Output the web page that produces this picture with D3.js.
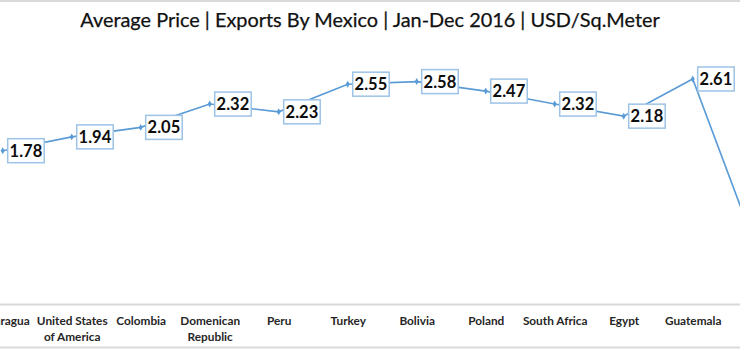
<!DOCTYPE html>
<html>
<head>
<meta charset="utf-8">
<script src="https://cdn.jsdelivr.net/npm/d3@7"></script>
<style>
  html, body { margin: 0; padding: 0; background: #fff; overflow: hidden; }
  svg { display: block; }
</style>
</head>
<body>
<svg id="chart" width="740" height="350"></svg>
<script>
const title = "Average Price | Exports By Mexico | Jan-Dec 2016 | USD/Sq.Meter";
const categories = ["Nicaragua", "United States of America", "Colombia", "Domenican Republic", "Peru", "Turkey", "Bolivia", "Poland", "South Africa", "Egypt", "Guatemala", "Next"];
const categoryLines = [["Nicaragua"], ["United States", "of America"], ["Colombia"], ["Domenican", "Republic"], ["Peru"], ["Turkey"], ["Bolivia"], ["Poland"], ["South Africa"], ["Egypt"], ["Guatemala"], []];
const values = [1.78, 1.94, 2.05, 2.32, 2.23, 2.55, 2.58, 2.47, 2.32, 2.18, 2.61, 0.48];
const yDomain = [0, 3];

const W = 740, H = 350;
const svg = d3.select("#chart");
const FONT = "Lato, 'Open Sans', sans-serif";

// frame lines
svg.append("line").attr("x1", 0).attr("x2", W).attr("y1", 1).attr("y2", 1)
  .attr("stroke", "#d9d9d9").attr("stroke-width", 2);
svg.append("line").attr("x1", 0).attr("x2", W).attr("y1", 347.5).attr("y2", 347.5)
  .attr("stroke", "#d9d9d9").attr("stroke-width", 2);

// title
const t = svg.append("text").text(title)
  .attr("x", W / 2).attr("y", 27)
  .attr("text-anchor", "middle")
  .attr("font-family", FONT).attr("font-size", 20)
  .attr("fill", "#111").attr("stroke", "#111").attr("stroke-width", 0.25);
{
  const w = t.node().getComputedTextLength();
  t.attr("font-size", 20 * 580 / w);
}

const x = d3.scalePoint().domain(categories).range([2.7, 2.7 + 69 * (categories.length - 1)]);
const y = d3.scaleLinear().domain(yDomain).range([304.5, 45.3]);

// axis
const axisG = svg.append("g").attr("transform", `translate(0,${y(0)})`)
  .call(d3.axisBottom(x).tickSize(0).tickFormat(""));
axisG.select(".domain").remove();
svg.append("line").attr("x1", 0).attr("x2", W).attr("y1", y(0)).attr("y2", y(0))
  .attr("stroke", "#d9d9d9").attr("stroke-width", 2);

axisG.selectAll(".tick").each(function(d, i) {
  const g = d3.select(this);
  g.select("text").remove();
  const lines = categoryLines[i];
  if (!lines.length) return;
  const tx = g.append("text")
    .attr("text-anchor", "middle")
    .attr("font-family", FONT).attr("font-weight", "bold")
    .attr("font-size", 11.8).attr("fill", "#262626");
  lines.forEach((ln, k) => {
    tx.append("tspan").attr("x", 0).attr("y", 20.5 + k * 15.5).text(ln);
  });
});

// line
const pts = categories.map((c, i) => ({ c, v: values[i] }));
svg.append("path").datum(pts)
  .attr("fill", "none").attr("stroke", "#5b9bd5").attr("stroke-width", 1.6)
  .attr("d", d3.line().x(d => x(d.c)).y(d => y(d.v)));

// markers
svg.selectAll(".mk").data(pts).join("path").attr("class", "mk")
  .attr("transform", d => `translate(${x(d.c)},${y(d.v)})`)
  .attr("d", d3.symbol(d3.symbolDiamond, 14))
  .attr("fill", "#5b9bd5");

// labels
const lab = svg.selectAll(".lab").data(pts.slice(0, 11)).join("g").attr("class", "lab")
  .attr("transform", d => `translate(${x(d.c) + 5},${y(d.v)})`);
lab.append("rect")
  .attr("x", 0).attr("y", -12).attr("width", 36.5).attr("height", 24)
  .attr("fill", "#fff").attr("stroke", "#9dc3e6").attr("stroke-width", 1.5);
lab.append("text")
  .attr("x", 18.25).attr("y", 6)
  .attr("text-anchor", "middle")
  .attr("font-family", FONT).attr("font-weight", "bold").attr("font-size", 16.5)
  .attr("fill", "#0d0d0d")
  .text(d => d.v.toFixed(2));
</script>
</body>
</html>
